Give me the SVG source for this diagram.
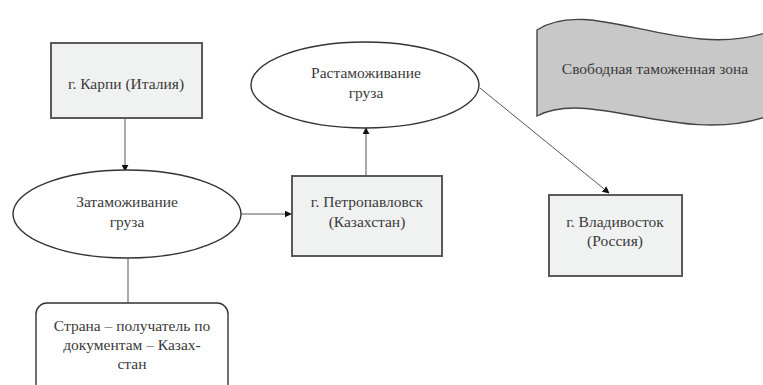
<svg xmlns="http://www.w3.org/2000/svg" width="763" height="385" viewBox="0 0 763 385">
<style>
.box{fill:#f0f1f1;stroke:#5a5a5a;stroke-width:2}
.ell{fill:#ffffff;stroke:#333;stroke-width:1.4}
.rr{fill:#ffffff;stroke:#333;stroke-width:1.4}
.ban{fill:#c8c8c8;stroke:#444;stroke-width:1.4}
.t{font-family:'Liberation Serif','DejaVu Serif',serif;font-size:15.5px;fill:#3a3a3a;text-anchor:middle}
.c{stroke:#555;stroke-width:1;fill:none}
</style>
<defs>
<marker id="ah" viewBox="0 0 10 10" refX="9" refY="5" markerWidth="7" markerHeight="7" orient="auto" markerUnits="userSpaceOnUse">
<path d="M0,0 L10,5 L0,10 z" fill="#111"/>
</marker>
</defs>
<g id="connectors">
<line class="c" x1="125" y1="118" x2="125" y2="171" marker-end="url(#ah)"/>
<line class="c" x1="128" y1="258" x2="128" y2="303"/>
<line class="c" x1="241" y1="214" x2="291" y2="214" marker-end="url(#ah)"/>
<line class="c" x1="366" y1="176" x2="366" y2="128" marker-end="url(#ah)"/>
<line class="c" x1="480" y1="88" x2="609" y2="193" marker-end="url(#ah)"/>
</g>
<g id="karpi">
<rect class="box" x="51" y="43" width="151" height="75"/>
<text class="t" x="126" y="89">г. Карпи (Италия)</text>
</g>
<g id="zatam">
<ellipse class="ell" cx="127" cy="214" rx="114" ry="44"/>
<text class="t" x="127" y="207">Затаможивание</text>
<text class="t" x="127" y="227">груза</text>
</g>
<g id="strana">
<rect class="rr" x="36" y="303" width="192" height="95" rx="11"/>
<text class="t" x="132" y="331">Страна – получатель по</text>
<text class="t" x="132" y="350">документам – Казах-</text>
<text class="t" x="132" y="369">стан</text>
</g>
<g id="petro">
<rect class="box" x="292" y="176" width="150" height="80"/>
<text class="t" x="367" y="207">г. Петропавловск</text>
<text class="t" x="367" y="227">(Казахстан)</text>
</g>
<g id="rastam">
<ellipse class="ell" cx="365" cy="85" rx="114" ry="43"/>
<text class="t" x="366" y="78">Растаможивание</text>
<text class="t" x="366" y="98">груза</text>
</g>
<g id="vlad">
<rect class="box" x="549" y="195" width="133" height="81"/>
<text class="t" x="615" y="227">г. Владивосток</text>
<text class="t" x="615" y="246">(Россия)</text>
</g>
<g id="zona">
<path class="ban" d="M537,30 C590,-5 680,60 765,33 L765,117 C680,145 590,88 537,116 Z"/>
<text class="t" x="655" y="74">Свободная таможенная зона</text>
</g>
</svg>
